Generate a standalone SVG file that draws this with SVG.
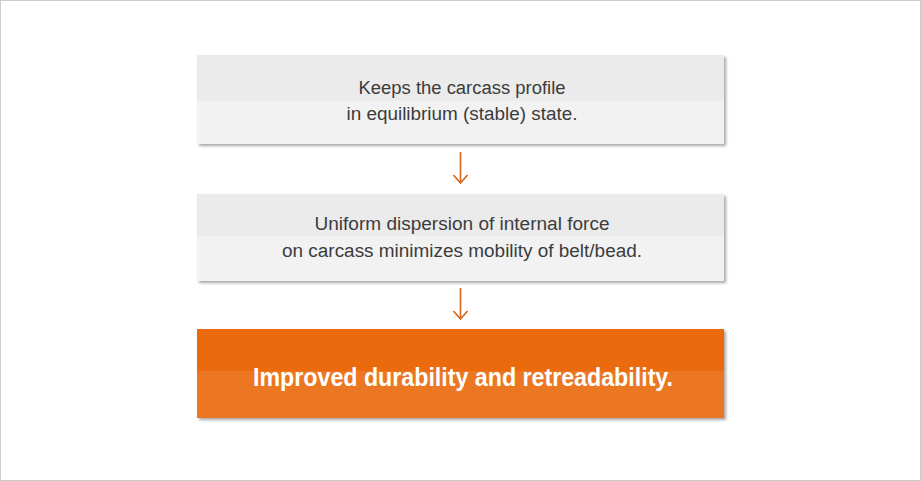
<svg xmlns="http://www.w3.org/2000/svg" width="921" height="481" viewBox="0 0 921 481">
<defs>
<filter id="sh" x="-5%" y="-10%" width="110%" height="130%">
<feGaussianBlur in="SourceAlpha" stdDeviation="1.5"/>
<feOffset dx="1.5" dy="2" result="b"/>
<feComponentTransfer><feFuncA type="linear" slope="0.35"/></feComponentTransfer>
<feMerge><feMergeNode/><feMergeNode in="SourceGraphic"/></feMerge>
</filter>
<marker id="ah" markerWidth="12" markerHeight="16" refX="9" refY="8" orient="auto" markerUnits="userSpaceOnUse" viewBox="0 0 12 16">
<path d="M1,1 L9,8 L1,15" fill="none" stroke="#d9661f" stroke-width="1.6"/>
</marker>
</defs>
<style>
.t{font-family:"Liberation Sans",Arial,sans-serif;font-size:18px;fill:#3c3c3c;text-anchor:middle}
.tb{font-family:"Liberation Sans",Arial,sans-serif;font-size:25px;font-weight:bold;fill:#ffffff;text-anchor:middle}
.c{stroke:#d9661f;stroke-width:1.6;fill:none}
</style>
<rect x="0.5" y="0.5" width="920" height="480" fill="#ffffff" stroke="#cccccc"/>
<g id="node1" filter="url(#sh)">
<rect x="197" y="55" width="527" height="46" fill="#ebebeb"/>
<rect x="197" y="101" width="527" height="43" fill="#f2f2f2"/>
</g>
<text class="t" x="462" y="94" textLength="207" lengthAdjust="spacingAndGlyphs">Keeps the carcass profile</text>
<text class="t" x="462" y="120" textLength="231" lengthAdjust="spacingAndGlyphs">in equilibrium (stable) state.</text>
<g id="node2" filter="url(#sh)">
<rect x="197" y="194" width="527" height="42" fill="#ebebeb"/>
<rect x="197" y="236" width="527" height="45" fill="#f2f2f2"/>
</g>
<text class="t" x="462" y="230" textLength="295" lengthAdjust="spacingAndGlyphs">Uniform dispersion of internal force</text>
<text class="t" x="462" y="257" textLength="360" lengthAdjust="spacingAndGlyphs">on carcass minimizes mobility of belt/bead.</text>
<g id="node3" filter="url(#sh)">
<rect x="197" y="329" width="527" height="42" fill="#ea6a0a"/>
<rect x="197" y="371" width="527" height="47" fill="#ec7724"/>
</g>
<text class="tb" x="463" y="386" textLength="420" lengthAdjust="spacingAndGlyphs">Improved durability and retreadability.</text>
<g id="connectors">
<line class="c" x1="460.5" y1="152" x2="460.5" y2="183" marker-end="url(#ah)"/>
<line class="c" x1="460.5" y1="288" x2="460.5" y2="319" marker-end="url(#ah)"/>
</g>
</svg>
